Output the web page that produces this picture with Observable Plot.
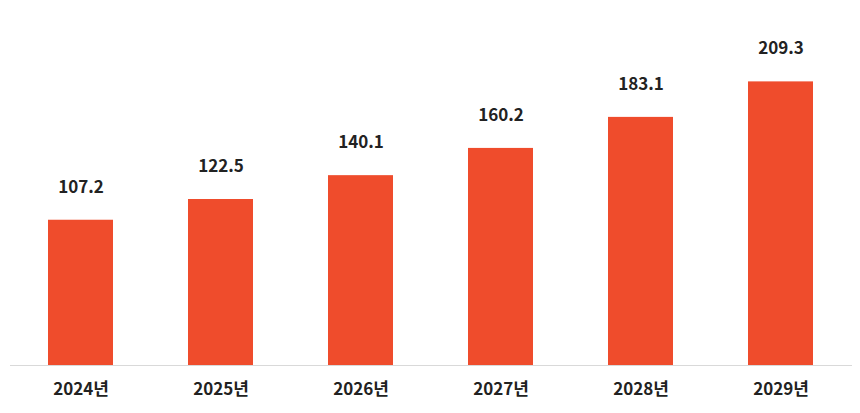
<!DOCTYPE html>
<html>
<head>
<meta charset="utf-8">
<script src="https://cdn.jsdelivr.net/npm/d3@7"></script>
<script src="https://cdn.jsdelivr.net/npm/@observablehq/plot@0.6"></script>
<style>
  html, body { margin: 0; padding: 0; background: #fff; }
  #chart svg { display: block; }
</style>
</head>
<body>
<div id="chart"></div>
<script>
const years = ["2024년", "2025년", "2026년", "2027년", "2028년", "2029년"];
const values = [107.2, 122.5, 140.1, 160.2, 183.1, 209.3];

const data = years.map((year, i) => ({year, value: values[i]}));

const font = "'Noto Sans CJK KR', 'Noto Sans', sans-serif";

const chart = Plot.plot({
  width: 860,
  height: 413,
  marginLeft: 10,
  marginRight: 8,
  marginTop: 20,
  marginBottom: 48,
  style: {fontFamily: font, background: "#fff"},
  x: {domain: years, paddingInner: 0.535, paddingOuter: 0.2675, label: null},
  y: {domain: [0, 254.6], axis: null},
  marks: [
    Plot.barY(data, {x: "year", y: "value", fill: "#ef4c2c"}),
    Plot.ruleY([0], {stroke: "#d9d9d9", strokeWidth: 1.2}),
    Plot.text(data, {
      x: "year", y: "value", text: d => d.value.toFixed(1),
      dy: -33, fontSize: 17, fontWeight: "bold", fill: "#222", fontFamily: font
    }),
    Plot.axisX({
      tickSize: 0, tickPadding: 17, fontSize: 17, fontWeight: "bold",
      fill: "#222", label: null, fontFamily: font
    })
  ]
});
document.getElementById("chart").append(chart);
</script>
</body>
</html>
